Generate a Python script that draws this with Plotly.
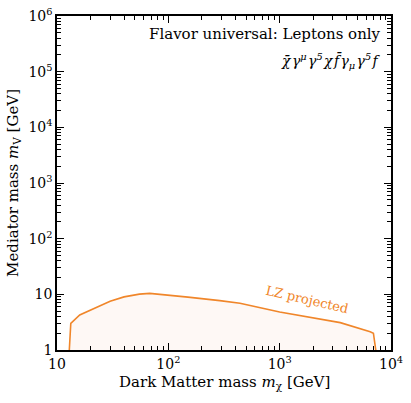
import plotly.graph_objects as go

# Data
m_chi = [12.9, 13.3, 16, 20, 25, 30, 40, 55, 68, 100, 150, 290, 440, 1000, 2000, 3500, 6500, 6950, 7300]
m_med = [1.0, 3.0, 4.25, 5.2, 6.5, 7.5, 9.0, 10.1, 10.4, 9.7, 8.9, 7.7, 6.9, 4.8, 3.8, 3.1, 2.13, 2.0, 1.0]

x_tickvals = [10, 100, 1000, 10000]
x_ticktext = ["10", "10<sup>2</sup>", "10<sup>3</sup>", "10<sup>4</sup>"]
y_tickvals = [1, 10, 100, 1e3, 1e4, 1e5, 1e6]
y_ticktext = ["1", "10", "10<sup>2</sup>", "10<sup>3</sup>", "10<sup>4</sup>", "10<sup>5</sup>", "10<sup>6</sup>"]

FONT = "DejaVu Serif"
ORANGE = "#f0862a"

fig = go.Figure()
fig.add_trace(go.Scatter(
    x=m_chi, y=m_med, mode="lines",
    line=dict(color=ORANGE, width=1.6),
    fill="toself", fillcolor="rgba(250,222,210,0.22)",
    hoverinfo="skip", showlegend=False,
))

axis_common = dict(
    type="log", showgrid=False, zeroline=False, automargin=False,
    showline=True, linecolor="black", linewidth=1.5, mirror="allticks",
    ticks="inside", ticklen=7, tickwidth=1.2, tickcolor="black",
    ticklabeloverflow="allow",
    tickfont=dict(family=FONT, size=14, color="black"),
    minor=dict(ticks="inside", ticklen=4, tickwidth=1, tickcolor="black", dtick="D1", showgrid=False),
)

fig.update_xaxes(**axis_common, range=[1, 4], tickvals=x_tickvals, ticktext=x_ticktext)
fig.update_yaxes(**axis_common, range=[0, 6], tickvals=y_tickvals, ticktext=y_ticktext)

fig.add_annotation(
    x=0.5, y=-0.096, xref="paper", yref="paper", xanchor="center", yanchor="middle",
    text="Dark Matter mass <i>m</i><sub>χ</sub> [GeV]", showarrow=False,
    font=dict(family=FONT, size=15, color="black"),
)
fig.add_annotation(
    x=-0.132, y=0.5, xref="paper", yref="paper", xanchor="center", yanchor="middle",
    text="Mediator mass <i>m</i><sub>V</sub> [GeV]", showarrow=False, textangle=-90,
    font=dict(family=FONT, size=15, color="black"),
)
fig.add_annotation(
    x=0.975, y=0.947, xref="paper", yref="paper", xanchor="right", yanchor="middle",
    text="Flavor universal: Leptons only", showarrow=False,
    font=dict(family=FONT, size=15, color="black"),
)
fig.add_annotation(
    x=0.975, y=0.866, xref="paper", yref="paper", xanchor="right", yanchor="middle",
    text="<i>χ̄\u200aγ<sup>μ</sup>\u200aγ<sup>5</sup>\u200aχ\u200af̄\u200aγ<sub>μ</sub>\u200aγ<sup>5</sup>\u200af</i>",
    showarrow=False,
    font=dict(family=FONT, size=14, color="black"),
)
fig.add_annotation(
    x=3.246, y=0.916, xref="x", yref="y", text="LZ projected", showarrow=False,
    textangle=13, font=dict(family=FONT, size=13, color=ORANGE),
)

fig.update_layout(
    width=411, height=403,
    margin=dict(l=57, r=20, t=16, b=53),
    paper_bgcolor="white", plot_bgcolor="white",
)

fig.write_html("out.html", config={"displayModeBar": False},
               post_script="document.body.style.margin='0px';")
